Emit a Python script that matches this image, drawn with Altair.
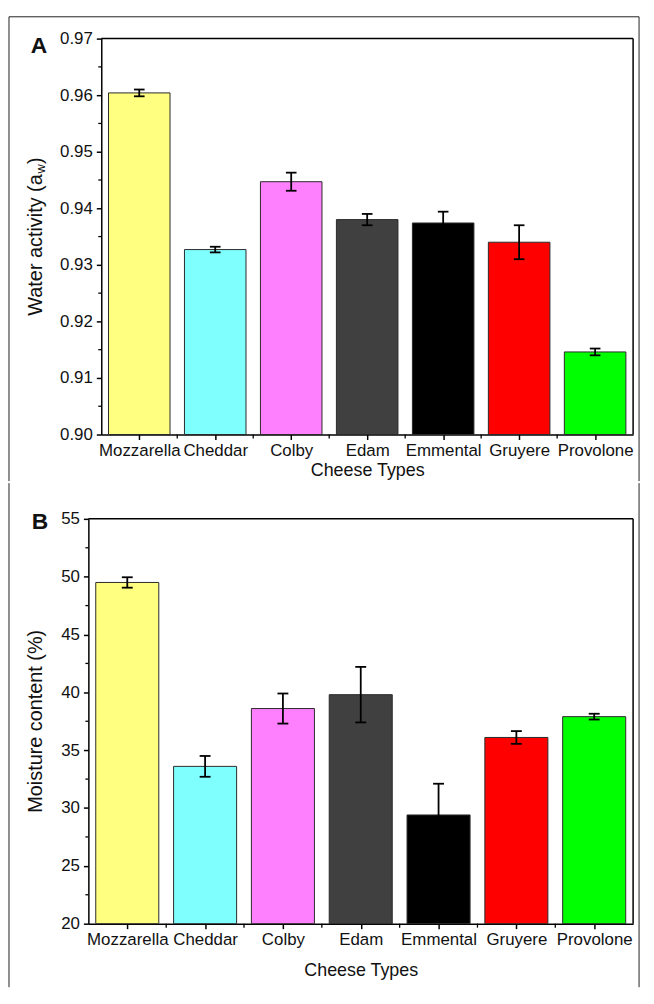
import json
import altair as alt
import pandas as pd

CHEESES = ["Mozzarella", "Cheddar", "Colby", "Edam", "Emmental", "Gruyere", "Provolone"]
BAR_COLORS = ["#FFFF80", "#80FFFF", "#FF80FF", "#404040", "#000000", "#FF0000", "#00FF00"]

AW_MEAN = [0.9604, 0.9327, 0.9447, 0.9380, 0.9374, 0.9340, 0.9146]
AW_SD = [0.0006, 0.0005, 0.0016, 0.0010, 0.0020, 0.0030, 0.0006]
MC_MEAN = [49.5, 33.6, 38.6, 39.8, 29.4, 36.1, 37.9]
MC_SD = [0.45, 0.9, 1.3, 2.4, 2.7, 0.55, 0.25]

AW_TICKS = [0.90, 0.91, 0.92, 0.93, 0.94, 0.95, 0.96, 0.97]
AW_MINOR = [0.905, 0.915, 0.925, 0.935, 0.945, 0.955, 0.965]
MC_TICKS = [20, 25, 30, 35, 40, 45, 50, 55]
MC_MINOR = [22.5, 27.5, 32.5, 37.5, 42.5, 47.5, 52.5]

FONT = "Liberation Sans"
HALF_BAR = 0.405
HALF_CAP = 0.07
ONE = pd.DataFrame({"k": [0]})


def vline(x, y, y2, color="#222", w=1):
    return alt.Chart(ONE).mark_rule(color=color, strokeWidth=w).encode(
        x=alt.value(x), y=alt.value(y), y2=alt.value(y2))


def hline(x, x2, y, color="#222", w=1):
    return alt.Chart(ONE).mark_rule(color=color, strokeWidth=w).encode(
        x=alt.value(x), x2=alt.value(x2), y=alt.value(y))


def label(text, x, y, size, angle=0, align="left", baseline="middle", weight="normal"):
    return alt.Chart(ONE).mark_text(
        text=text, angle=angle, align=align, baseline=baseline, font=FONT,
        fontSize=size, fontWeight=weight, color="#111").encode(
        x=alt.value(x), y=alt.value(y))


def panel(mean, sd, ticks, minor, fmt, W, H, shift, frame, letter, ytitle, xtitle_pad):
    df = pd.DataFrame({"idx": list(range(len(CHEESES))), "cheese": CHEESES,
                       "mean": mean, "sd": sd})
    base = alt.Chart(df).transform_calculate(
        x1=f"datum.idx - {HALF_BAR}", x2=f"datum.idx + {HALF_BAR}",
        lo="datum.mean - datum.sd", hi="datum.mean + datum.sd",
        cl=f"datum.idx - {HALF_CAP}", cr=f"datum.idx + {HALF_CAP}",
        base=str(ticks[0]))
    # plot area runs from -shift to W (axis moved left by "shift")
    xscale = alt.Scale(domain=[-0.5, len(CHEESES) - 0.5], nice=False, zero=False,
                       range=[-shift, W])
    yscale = alt.Scale(domain=[ticks[0], ticks[-1]], nice=False, zero=False)
    label_expr = json.dumps(CHEESES) + "[datum.value]"
    xaxis = alt.Axis(values=list(range(len(CHEESES))), labelExpr=label_expr,
                     title="Cheese Types", titlePadding=xtitle_pad,
                     labelOverlap=False, labelFlush=False, labelPadding=3)
    yaxis = alt.Axis(values=ticks, format=fmt, title=None, labelFlush=False,
                     labelOverlap=False, labelPadding=4, offset=shift)

    def X(f):
        return alt.X(f, scale=xscale, axis=xaxis)

    def Y(f):
        return alt.Y(f, scale=yscale, axis=yaxis)

    bars = base.mark_rect(stroke="#2a2a2a", strokeWidth=1).encode(
        x=X("x1:Q"), x2="x2:Q", y=Y("mean:Q"), y2="base:Q",
        color=alt.Color("cheese:N", scale=alt.Scale(domain=CHEESES, range=BAR_COLORS),
                        legend=None),
    )
    err = base.mark_rule(color="black", strokeWidth=1.8).encode(
        x=X("idx:Q"), y=Y("lo:Q"), y2="hi:Q")
    cap_hi = base.mark_rule(color="black", strokeWidth=1.8).encode(
        x=X("cl:Q"), x2="cr:Q", y=Y("hi:Q"))
    cap_lo = base.mark_rule(color="black", strokeWidth=1.8).encode(
        x=X("cl:Q"), x2="cr:Q", y=Y("lo:Q"))

    ymin = alt.Chart(pd.DataFrame({"v": minor})).mark_rule(color="black", strokeWidth=1.3).encode(
        y=Y("v:Q"), x=alt.value(-shift - 3), x2=alt.value(-shift))
    xmin = base.transform_filter(f"datum.idx < {len(CHEESES) - 1}").transform_calculate(
        b="datum.idx + 0.5").mark_rule(color="black", strokeWidth=1.3).encode(
        x=X("b:Q"), y=alt.value(H), y2=alt.value(H + 4))

    # plot box: top and right edges
    box = [hline(-shift, W, 0, color="black", w=1.5), vline(W, 0, H, color="black", w=1.5)]

    left, right, top, bottom, edges = frame
    frame_layers = [vline(left, top, bottom), vline(right, top, bottom)]
    if "top" in edges:
        frame_layers.append(hline(left, right, top))

    lt, lx, ly = letter
    letter_layer = label(lt, lx, ly, 23, baseline="alphabetic", weight="bold")

    layers = [bars, err, cap_hi, cap_lo, ymin, xmin, letter_layer] + box + frame_layers + ytitle
    return alt.layer(*layers).properties(width=W, height=H)


W = 536
FT = 20
# Panel A
HA = 399
L1 = 7.168 * FT
LW = 0.722 * 13
Y0 = HA / 2 + (L1 + LW + 0.333 * FT) / 2
title_a = [
    label("Water activity (a", -66, Y0, FT, angle=270),
    label("w", -61, Y0 - L1, 13, angle=270),
    label(")", -66, Y0 - L1 - LW, FT, angle=270),
]
panel_a = panel(AW_MEAN, AW_SD, AW_TICKS, AW_MINOR, ".2f", W, HA, 0,
                (-93, 542, -22, 446, ("top",)), ("A", -71, 14), title_a, 3)

# Panel B
HB = 408
SB = 13
title_b = [label("Moisture content (%)", -66, HB / 2, FT, angle=270, align="center")]
panel_b = panel(MC_MEAN, MC_SD, MC_TICKS, MC_MINOR, "d", W, HB, SB,
                (-93, 542, -36, 472, ()), ("B", -70, 10), title_b, 14)

chart = alt.vconcat(panel_a, panel_b, spacing=0).properties(
    padding={"left": 0, "top": 4, "right": 0, "bottom": 0}
).configure_view(strokeWidth=0).configure_axis(
    domainColor="black", domainWidth=1.5, tickColor="black", tickWidth=1.5, tickSize=5,
    labelFont=FONT, labelFontSize=17, labelColor="#111",
    titleFont=FONT, titleFontSize=18, titleFontWeight="normal", titleColor="#111",
    grid=False,
)

chart.save("out.html", embed_options={"renderer": "svg", "actions": False})
